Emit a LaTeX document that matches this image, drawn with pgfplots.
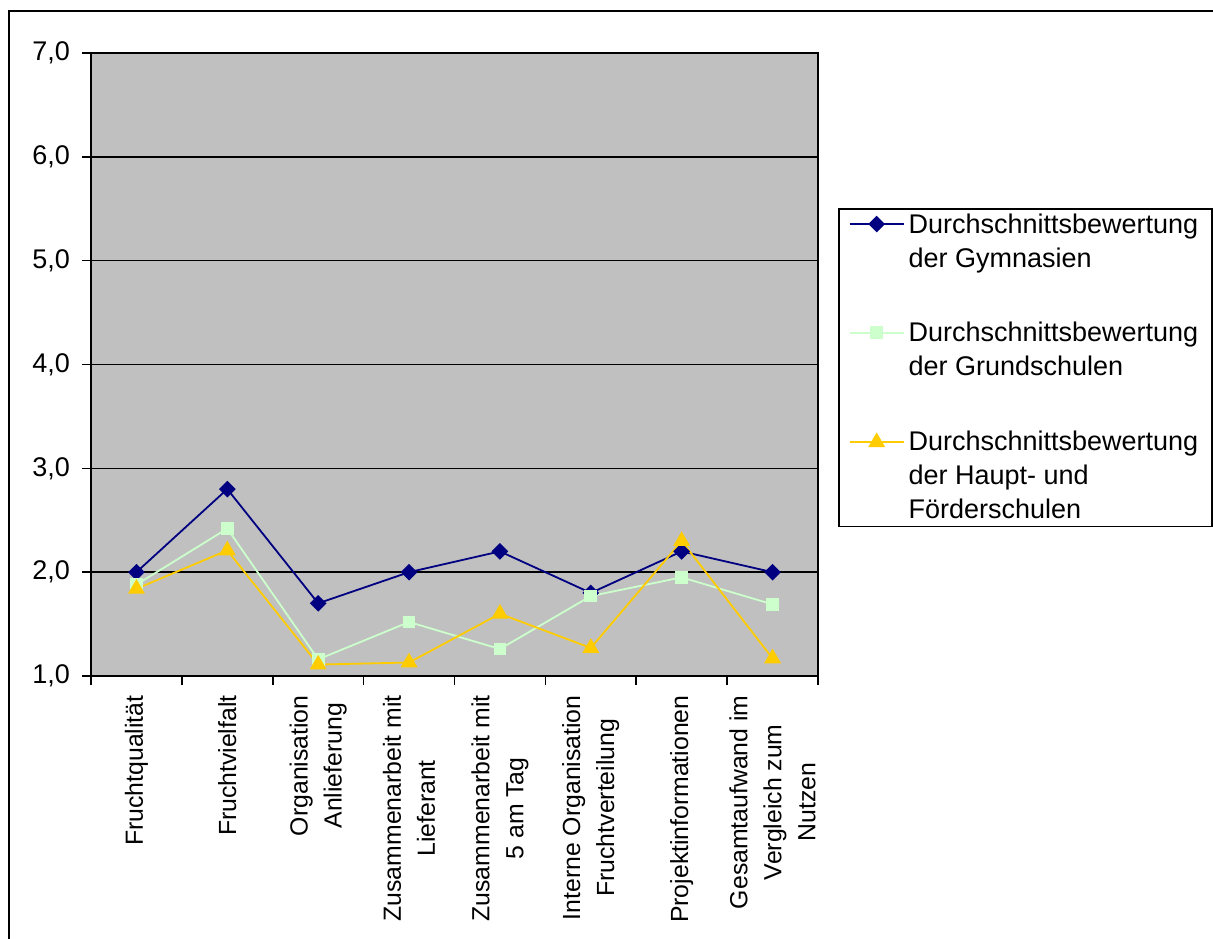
\documentclass[border=0pt]{standalone}
\usepackage{fontspec}
\setmainfont{Liberation Sans}
\usepackage{pgfplots}
\pgfplotsset{compat=1.18}
\definecolor{gymc}{HTML}{000080}
\definecolor{grundc}{HTML}{CCFFCC}
\definecolor{hauptc}{HTML}{FFCC00}
\definecolor{plotbg}{HTML}{C0C0C0}
\pgfplotsset{
  legimg/.style={legend image code/.code={\draw[mark repeat=2,mark phase=2,yshift=#1] plot coordinates {(0pt,0pt)(13.5pt,0pt)(27pt,0pt)};}}
}
\begin{document}
\begin{tikzpicture}
\useasboundingbox (0,0) rectangle (606.5pt,469pt);
\draw[line width=1pt] (4.5pt,-5pt) -- (4.5pt,463.5pt) -- (615pt,463.5pt);
\begin{axis}[
  at={(45.5pt,131pt)}, anchor=south west,
  scale only axis, width=363.5pt, height=311.5pt,
  xmin=0.5, xmax=8.5, ymin=1, ymax=7,
  axis background/.style={fill=plotbg},
  axis line style={black, line width=0.8pt},
  ymajorgrids, major grid style={black, line width=0.8pt},
  tick align=outside, major tick length=4.5pt,
  tick style={black, line width=0.8pt},
  ytick={1,2,3,4,5,6,7},
  yticklabels={{1,0},{2,0},{3,0},{4,0},{5,0},{6,0},{7,0}},
  yticklabel style={font=\fontsize{13.5}{16}\selectfont, xshift=-2.5pt},
  ytick pos=left,
  xtick={0.5,1.5,...,8.5},
  x tick label as interval,
  xtick pos=bottom,
  xticklabels={Fruchtqualität, Fruchtvielfalt, {Organisation\\Anlieferung}, {Zusammenarbeit mit\\Lieferant}, {Zusammenarbeit mit\\5 am Tag}, {Interne Organisation\\Fruchtverteilung}, Projektinformationen, {Gesamtaufwand im\\Vergleich zum\\Nutzen}},
  xticklabel style={rotate=90, anchor=east, align=center, font=\fontsize{12.4}{17}\selectfont, inner xsep=5pt},
  legend style={at={(1.0275,0.7512)}, anchor=north west, draw=black, line width=0.8pt, fill=white,
    font=\fontsize{13.5}{17}\selectfont, inner xsep=5pt, inner ysep=0.5pt, row sep=22pt, column sep=0pt,
    nodes={inner sep=2pt}},
  legend cell align=left,
  legend style={cells={align=left}},
]
\addplot[gymc, line width=0.9pt, mark=square*, mark size=2.5pt, mark options={rotate=45, fill=gymc, draw=gymc}, legimg=9pt]
  coordinates {(1,2.0)(2,2.8)(3,1.7)(4,2.0)(5,2.2)(6,1.8)(7,2.2)(8,2.0)};
\addlegendentry{Durchschnittsbewertung\\der Gymnasien}
\addplot[grundc, line width=0.9pt, mark=square*, mark size=2.75pt, mark options={fill=grundc, draw=grundc}, legimg=9pt]
  coordinates {(1,1.88)(2,2.42)(3,1.16)(4,1.52)(5,1.26)(6,1.77)(7,1.95)(8,1.69)};
\addlegendentry{Durchschnittsbewertung\\der Grundschulen}
\addplot[hauptc, line width=0.9pt, mark=triangle*, mark size=4pt, mark options={fill=hauptc, draw=hauptc}, legimg=17pt]
  coordinates {(1,1.84)(2,2.21)(3,1.11)(4,1.13)(5,1.60)(6,1.27)(7,2.30)(8,1.17)};
\addlegendentry{Durchschnittsbewertung\\der Haupt- und\\Förderschulen}
\end{axis}
\end{tikzpicture}
\end{document}
